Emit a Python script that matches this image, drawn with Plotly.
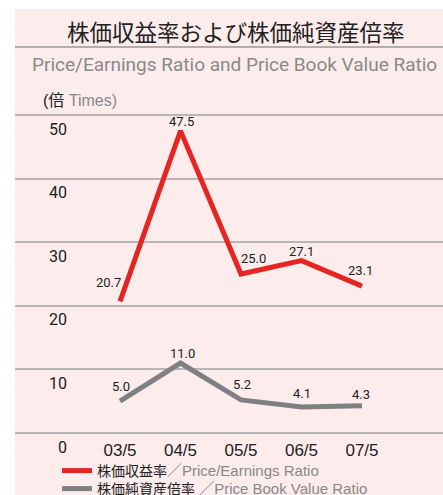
import plotly.graph_objects as go

years = ["03/5", "04/5", "05/5", "06/5", "07/5"]
per_values = [20.7, 47.5, 25.0, 27.1, 23.1]
pbr_values = [5.0, 11.0, 5.2, 4.1, 4.3]
y_ticks = [0, 10, 20, 30, 40, 50]
y_tick_text = ["\u20070", "10", "20", "30", "40", "50"]

PINK = "#fdecec"
RED = "#e52521"
GRAY = "#7f8083"
GRID = "#b9b5b6"
NARROW = "Roboto, sans-serif"
SANS = "Liberation Sans, Noto Sans CJK JP, sans-serif"

W, H = 443, 495
L, R, T, B = 15, 0, 113, 60
PW, PH = W - L - R, H - T - B
PAD = 2 / 6.36  # keeps the 0 and 50 gridlines off the plot edges


def px(x):
    return (x - L) / PW


def py(y):
    return (H - B - y) / PH


def legend_name(jp, en):
    return (f'<span style="color:#222">{jp}</span>'
            f'<span style="color:#888;font-size:15px">{en}</span>')


fig = go.Figure()
fig.add_trace(go.Scatter(x=years, y=per_values, mode="lines", legend="legend",
                         name=legend_name("株価収益率", "／Price/Earnings Ratio"),
                         line=dict(color=RED, width=5), hoverinfo="skip"))
fig.add_trace(go.Scatter(x=years, y=pbr_values, mode="lines", legend="legend2",
                         name=legend_name("株価純資産倍率", " ／Price Book Value Ratio"),
                         line=dict(color=GRAY, width=5), hoverinfo="skip"))

# value labels, offset in pixels from their points
per_shift = [(-12, 19), (1, 9), (12, 16), (0, 9), (-2, 16)]
pbr_shift = [(1, 15), (2, 10), (1, 15), (0, 13), (-1, 11)]
for values, shifts in [(per_values, per_shift), (pbr_values, pbr_shift)]:
    for year, v, (dx, dy) in zip(years, values, shifts):
        fig.add_annotation(x=year, y=v, text=f"{v:.1f}", showarrow=False,
                           xshift=dx, yshift=dy, xanchor="center", yanchor="middle",
                           font=dict(family=NARROW, size=13, color="#222"))

fig.add_shape(type="rect", xref="paper", yref="paper", layer="below",
              x0=0, x1=1, y0=py(495), y1=py(9), fillcolor=PINK, line_width=0)
fig.add_shape(type="line", xref="paper", yref="paper",
              x0=0, x1=1, y0=py(47), y1=py(47), line=dict(color="#9a9a9a", width=1.5))

fig.add_annotation(text="株価収益率および株価純資産倍率", xref="paper", yref="paper",
                   x=px(236), y=py(31), xanchor="center", yanchor="middle", showarrow=False,
                   font=dict(family="Noto Sans CJK JP", size=22.5, color="#222"))
fig.add_annotation(text="Price/Earnings Ratio and Price Book Value Ratio", xref="paper", yref="paper",
                   x=px(234), y=py(65), xanchor="center", yanchor="middle", showarrow=False,
                   font=dict(family=NARROW, size=19, color="#8a8a8a"))
fig.add_annotation(text='(倍<span style="color:#888"> Times)</span>', xref="paper", yref="paper",
                   x=px(41), y=py(100), xanchor="left", yanchor="middle", showarrow=False,
                   font=dict(family=SANS, size=16, color="#222"))

fig.update_xaxes(range=[-1.736, 5.339], showgrid=False, zeroline=False, showline=False,
                 ticks="", automargin=False, ticklabelstandoff=3,
                 tickfont=dict(family=SANS, size=17, color="#222"))
fig.update_yaxes(range=[-PAD, 50 + PAD], tickvals=y_ticks, ticktext=y_tick_text,
                 showgrid=True, gridcolor=GRID, gridwidth=2,
                 zeroline=False, showline=False, ticks="", automargin=False,
                 ticklabelposition="inside", ticklabelstandoff=31, ticklabelshift=14,
                 ticklabeloverflow="allow",
                 tickfont=dict(family=NARROW, size=16, color="#222"))

legend_style = dict(xanchor="left", yanchor="top", bgcolor="rgba(0,0,0,0)",
                    font=dict(family=SANS, size=14, color="#222"))
fig.update_layout(
    width=W, height=H,
    margin=dict(l=L, r=R, t=T, b=B, autoexpand=False),
    paper_bgcolor="white", plot_bgcolor=PINK,
    showlegend=True, hovermode=False,
    legend=dict(x=px(57), y=py(455), **legend_style),
    legend2=dict(x=px(57), y=py(473), **legend_style),
)

fig.write_html("out.html", config={"displayModeBar": False},
               post_script="document.body.style.margin='0';")
